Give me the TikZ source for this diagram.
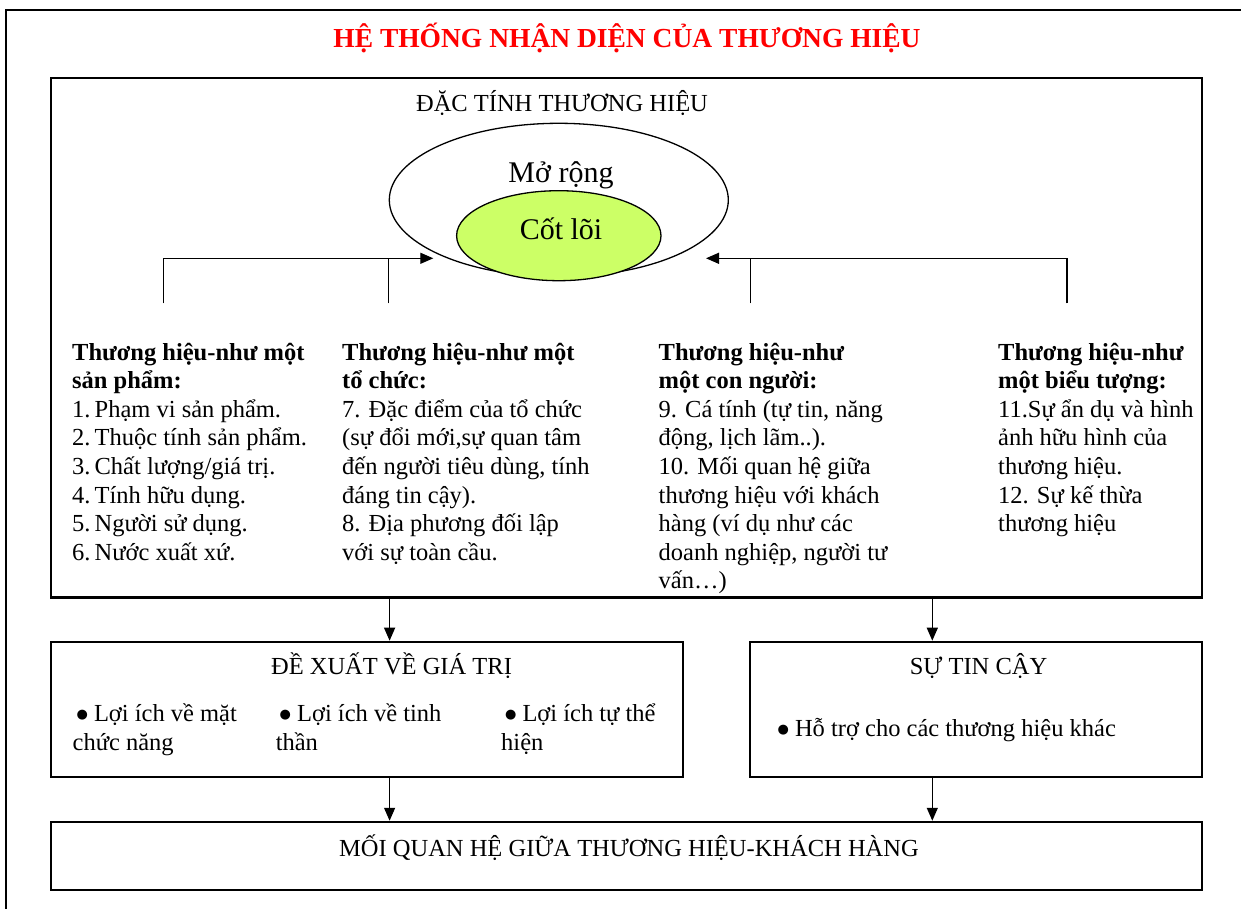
\documentclass[tikz,border=0pt]{standalone}
\usepackage{fontspec}
\setmainfont{Liberation Serif}
\newfontfamily\dotfont{DejaVu Sans}
\usetikzlibrary{shapes.geometric,arrows.meta}

\newcommand{\bodysize}{\fontsize{24.5}{28.6}\selectfont}
\newcommand{\bul}{\hspace*{3.8pt}\makebox[17.5pt][l]{\raisebox{3.5pt}{\dotfont\fontsize{13}{13}\selectfont ●}}}

\tikzset{
  frameline/.style={line width=2pt, draw=black},
  boxstyle/.style={rectangle, draw=black, line width=2pt, inner sep=0pt},
  txt/.style={inner sep=0pt, font=\bodysize},
  col/.style={inner sep=0pt, anchor=base west, font=\bodysize},
  conn/.style={line width=1.3pt, draw=black},
  arr/.style={conn, -{Triangle[length=13pt,width=11pt]}},
  ring/.style={ellipse, draw=black, line width=1.3pt, inner sep=0pt}
}

\begin{document}
\begin{tikzpicture}[x=1pt, y=-1pt]
\useasboundingbox (0,0) rectangle (1241,909);

% outer frame, open to the right and bottom
\draw[frameline] (5.7,909) -- (5.7,10.3) -- (1241,10.3);

% title
\node[inner sep=0pt, anchor=base, text=red, font=\fontsize{27.5}{32}\selectfont\bfseries]
  (title) at (627,47.7) {HỆ THỐNG NHẬN DIỆN CỦA THƯƠNG HIỆU};

% identity block
\node[boxstyle, minimum width=1151pt, minimum height=519pt] (identity) at (626.5,337.8) {};
\node[txt, anchor=base] (identitytitle) at (562,111.7) {ĐẶC TÍNH THƯƠNG HIỆU};

% core and extended identity
\node[ring, fill=white, minimum width=339pt, minimum height=153.4pt] (extended) at (558.8,200) {};
\node[ring, fill={rgb,255:red,204;green,255;blue,102}, minimum width=204.4pt, minimum height=90pt] (core) at (558.8,235.7) {};
\node[inner sep=0pt, anchor=base, font=\fontsize{30}{34}\selectfont] (extlabel) at (561,183) {Mở rộng};
\node[inner sep=0pt, anchor=base, font=\fontsize{30}{34}\selectfont] (corelabel) at (561,240) {Cốt lõi};

% four perspectives
\node[col] (product) at (72,360) {\parbox[t]{265pt}{\raggedright
  \textbf{Thương hiệu-như một}\\
  \textbf{sản phẩm:}\\
  1.\,Phạm vi sản phẩm.\\
  2.\,Thuộc tính sản phẩm.\\
  3.\,Chất lượng/giá trị.\\
  4.\,Tính hữu dụng.\\
  5.\,Người sử dụng.\\
  6.\,Nước xuất xứ.}};

\node[col] (organisation) at (342,360) {\parbox[t]{300pt}{\raggedright
  \textbf{Thương hiệu-như một}\\
  \textbf{tổ chức:}\\
  7. Đặc điểm của tổ chức\\
  (sự đổi mới,sự quan tâm\\
  đến người tiêu dùng, tính\\
  đáng tin cậy).\\
  8. Địa phương đối lập\\
  với sự toàn cầu.}};

\node[col] (person) at (658.5,360) {\parbox[t]{300pt}{\raggedright
  \textbf{Thương hiệu-như}\\
  \textbf{một con người:}\\
  9. Cá tính (tự tin, năng\\
  động, lịch lãm..).\\
  10. Mối quan hệ giữa\\
  thương hiệu với khách\\
  hàng (ví dụ như các\\
  doanh nghiệp, người tư\\
  vấn…)}};

\node[col] (symbol) at (998,360) {\parbox[t]{220pt}{\raggedright
  \textbf{Thương hiệu-như}\\
  \textbf{một biểu tượng:}\\
  11.Sự ẩn dụ và hình\\
  ảnh hữu hình của\\
  thương hiệu.\\
  12. Sự kế thừa\\
  thương hiệu}};

% redraw the bottom edge over the last text line
\draw[frameline] (identity.south west) -- (identity.south east);

% feeders into the identity rings
\coordinate (srcA) at (163.3,303.3);
\coordinate (srcB) at (388.5,303.3);
\coordinate (srcC) at (750.7,303.3);
\coordinate (srcD) at (1067,303.3);
\coordinate (tipL) at (433.3,258.3);
\coordinate (tipR) at (706,258.3);
\draw[arr] (srcA) |- (tipL);
\draw[conn] (srcB) -- (srcB |- tipL);
\draw[arr] (srcD) |- (tipR);
\draw[conn] (srcC) -- (srcC |- tipR);

% value proposition and credibility
\node[boxstyle, minimum width=632pt, minimum height=135pt] (value) at (367,709.2) {};
\node[boxstyle, minimum width=452pt, minimum height=135pt] (trust) at (976,709.2) {};
\node[txt, anchor=base] (valuetitle) at (391.5,674) {ĐỀ XUẤT VỀ GIÁ TRỊ};
\node[txt, anchor=base] (trusttitle) at (978.5,674) {SỰ TIN CẬY};

\node[col] (functional) at (72.5,721.7) {\parbox[t]{200pt}{\raggedright
  \bul Lợi ích về mặt\\chức năng}};
\node[col] (emotional) at (275.6,721.7) {\parbox[t]{200pt}{\raggedright
  \bul Lợi ích về tinh\\thần}};
\node[col] (selfexpr) at (501,721.7) {\parbox[t]{200pt}{\raggedright
  \bul Lợi ích tự thể\\hiện}};
\node[col] (support) at (773.5,736.7) {\bul Hỗ trợ cho các thương hiệu khác};

% relationship
\node[boxstyle, minimum width=1151pt, minimum height=68.3pt] (relation) at (626.5,855.9) {};
\node[txt, anchor=base] (relationtitle) at (629,856.7) {MỐI QUAN HỆ GIỮA THƯƠNG HIỆU-KHÁCH HÀNG};

% downward flow
\coordinate (lane1) at (389.6,0);
\coordinate (lane2) at (932.3,0);
\draw[arr] (identity.south -| lane1) -- (value.north -| lane1);
\draw[arr] (identity.south -| lane2) -- (trust.north -| lane2);
\draw[arr] (value.south -| lane1) -- (relation.north -| lane1);
\draw[arr] (trust.south -| lane2) -- (relation.north -| lane2);
\end{tikzpicture}
\end{document}
